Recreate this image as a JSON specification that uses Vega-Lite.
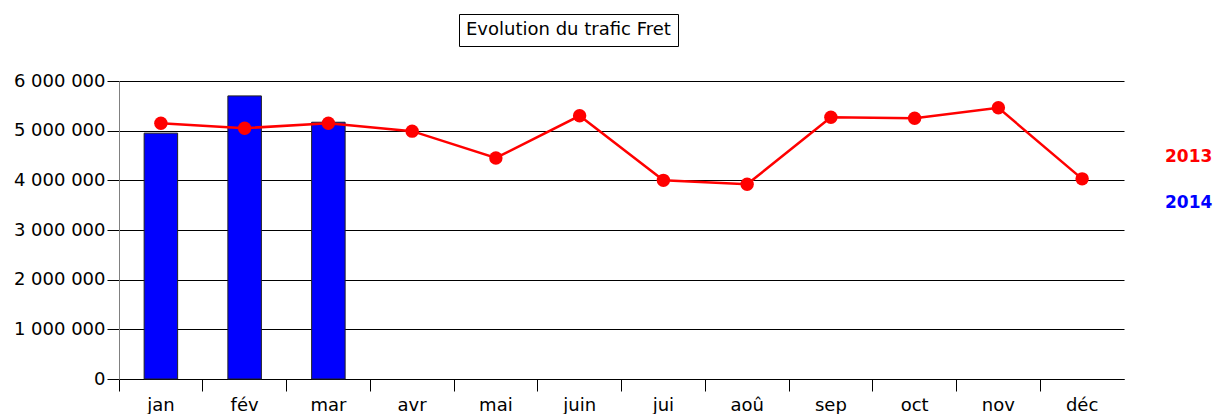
{
  "$schema": "https://vega.github.io/schema/vega-lite/v6.json",
  "width": 1005,
  "height": 298,
  "padding": {"left": 13, "top": 13, "right": 5, "bottom": 5},
  "background": "white",
  "config": {
    "view": {"stroke": null},
    "font": "DejaVu Sans"
  },
  "data": {
    "values": [
      {"mois": "jan", "annee": "2013", "valeur": 5150000},
      {"mois": "fév", "annee": "2013", "valeur": 5050000},
      {"mois": "mar", "annee": "2013", "valeur": 5150000},
      {"mois": "avr", "annee": "2013", "valeur": 4990000},
      {"mois": "mai", "annee": "2013", "valeur": 4450000},
      {"mois": "juin", "annee": "2013", "valeur": 5300000},
      {"mois": "jui", "annee": "2013", "valeur": 4000000},
      {"mois": "aoû", "annee": "2013", "valeur": 3920000},
      {"mois": "sep", "annee": "2013", "valeur": 5270000},
      {"mois": "oct", "annee": "2013", "valeur": 5250000},
      {"mois": "nov", "annee": "2013", "valeur": 5460000},
      {"mois": "déc", "annee": "2013", "valeur": 4030000},
      {"mois": "jan", "annee": "2014", "valeur": 4950000},
      {"mois": "fév", "annee": "2014", "valeur": 5700000},
      {"mois": "mar", "annee": "2014", "valeur": 5170000}
    ]
  },
  "encoding": {
    "x": {
      "field": "mois",
      "type": "nominal",
      "sort": ["jan", "fév", "mar", "avr", "mai", "juin", "jui", "aoû", "sep", "oct", "nov", "déc"],
      "scale": {"paddingInner": 0, "paddingOuter": 0},
      "axis": {
        "title": null,
        "labelAngle": 0,
        "labelFontSize": 18,
        "labelColor": "#000000",
        "labelFont": "DejaVu Sans",
        "bandPosition": 0,
        "tickSize": 12,
        "tickColor": "#000000",
        "domainColor": "#000000",
        "labelPadding": 5,
        "grid": false
      }
    },
    "y": {
      "field": "valeur",
      "type": "quantitative",
      "scale": {"domain": [0, 6000000], "nice": false},
      "axis": {
        "title": null,
        "values": [0, 1000000, 2000000, 3000000, 4000000, 5000000, 6000000],
        "labelExpr": "replace(replace(format(datum.value, ','), ',', ' '), ',', ' ')",
        "labelFontSize": 18,
        "labelColor": "#000000",
        "labelFont": "DejaVu Sans",
        "tickSize": 12,
        "tickColor": "#000000",
        "domainColor": "#808080",
        "labelPadding": 2,
        "grid": true,
        "gridColor": "#000000",
        "gridOpacity": 1
      }
    },
    "color": {
      "field": "annee",
      "type": "nominal",
      "scale": {"domain": ["2013", "2014"], "range": ["#ff0000", "#0000ff"]},
      "legend": {
        "title": null,
        "orient": "none",
        "legendX": 1025,
        "legendY": 67,
        "symbolSize": 0,
        "symbolOpacity": 0,
        "symbolStrokeWidth": 0,
        "labelFontSize": 17,
        "labelFontWeight": "bold",
        "labelFont": "DejaVu Sans",
        "rowPadding": 28,
        "encode": {
          "labels": {
            "update": {
              "fill": {"signal": "datum.label == '2013' ? '#ff0000' : '#0000ff'"}
            }
          }
        }
      }
    }
  },
  "layer": [
    {
      "transform": [{"filter": "datum.annee == '2014'"}],
      "mark": {"type": "bar", "width": {"band": 0.4}, "stroke": "#202020", "strokeWidth": 1},
      "encoding": {
        "opacity": {
          "datum": "titre",
          "type": "ordinal",
          "scale": {"range": [1, 1]},
          "legend": {
            "title": "Evolution du trafic Fret",
            "values": [],
            "orient": "none",
            "legendX": 340,
            "legendY": -67,
            "titleFont": "DejaVu Sans",
            "titleFontSize": 18,
            "titleFontWeight": "normal",
            "titleColor": "#000000",
            "titleLimit": 0,
            "strokeColor": "#000000",
            "padding": 7
          }
        }
      }
    },
    {
      "transform": [{"filter": "datum.annee == '2013'"}],
      "mark": {"type": "line", "strokeWidth": 2.5, "point": {"size": 180, "filled": true, "opacity": 1}}
    }
  ]
}
